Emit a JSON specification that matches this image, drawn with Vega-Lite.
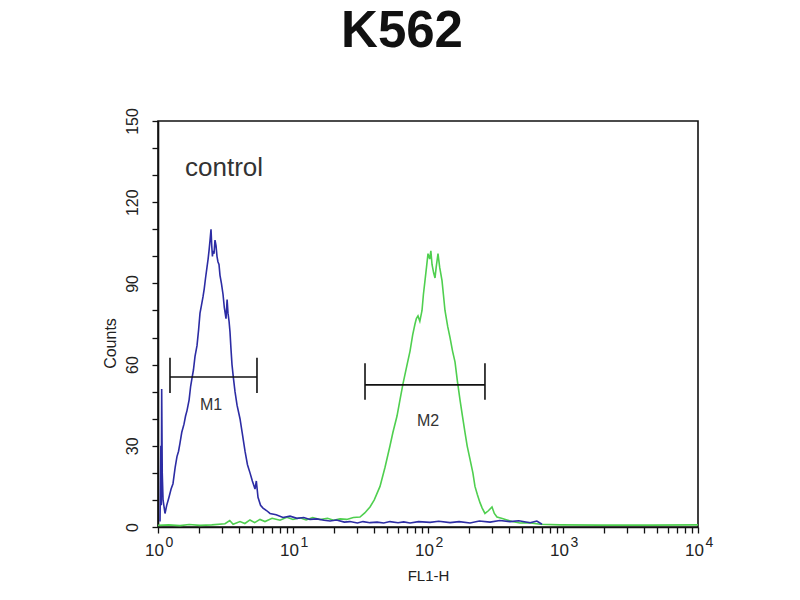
{
  "$schema": "https://vega.github.io/schema/vega-lite/v6.json",
  "description": "K562 flow cytometry histogram, control",
  "autosize": {"type": "none"},
  "padding": {"left": 158, "top": 121, "right": 102, "bottom": 73},
  "width": 540,
  "height": 406,
  "background": "white",
  "title": {
    "text": "K562",
    "font": "Liberation Sans",
    "fontSize": 51,
    "fontWeight": "bold",
    "color": "#111111",
    "anchor": "middle",
    "offset": 50,
    "dx": -26
  },
  "config": {
    "view": {"stroke": "#111111", "strokeWidth": 1.6},
    "axis": {
      "domainColor": "#111111",
      "domainWidth": 1.6,
      "tickColor": "#111111",
      "tickWidth": 1.3,
      "tickSize": 6,
      "grid": false,
      "labelFont": "Liberation Sans",
      "labelColor": "#222222",
      "labelOverlap": false,
      "labelFlush": false,
      "titleFont": "Liberation Sans",
      "titleFontWeight": "normal",
      "titleColor": "#222222"
    }
  },
  "datasets": {
    "blue": [
      {"fl": 1.035, "count": 2}, {"fl": 1.05, "count": 30}, {"fl": 1.058, "count": 8},
      {"fl": 1.065, "count": 51}, {"fl": 1.075, "count": 20}, {"fl": 1.09, "count": 10},
      {"fl": 1.127, "count": 5}, {"fl": 1.16, "count": 8}, {"fl": 1.206, "count": 11},
      {"fl": 1.25, "count": 14}, {"fl": 1.291, "count": 16}, {"fl": 1.34, "count": 22},
      {"fl": 1.382, "count": 26}, {"fl": 1.42, "count": 28}, {"fl": 1.455, "count": 31},
      {"fl": 1.5, "count": 35}, {"fl": 1.558, "count": 38}, {"fl": 1.6, "count": 41},
      {"fl": 1.64, "count": 43}, {"fl": 1.7, "count": 47}, {"fl": 1.745, "count": 52},
      {"fl": 1.786, "count": 55}, {"fl": 1.83, "count": 58}, {"fl": 1.88, "count": 63},
      {"fl": 1.945, "count": 67}, {"fl": 2.0, "count": 73}, {"fl": 2.047, "count": 79},
      {"fl": 2.1, "count": 82}, {"fl": 2.154, "count": 85}, {"fl": 2.2, "count": 88},
      {"fl": 2.25, "count": 92}, {"fl": 2.307, "count": 96}, {"fl": 2.35, "count": 99},
      {"fl": 2.387, "count": 102}, {"fl": 2.43, "count": 106}, {"fl": 2.47, "count": 110},
      {"fl": 2.5, "count": 104}, {"fl": 2.53, "count": 100}, {"fl": 2.556, "count": 102},
      {"fl": 2.6, "count": 101}, {"fl": 2.644, "count": 106}, {"fl": 2.69, "count": 104},
      {"fl": 2.735, "count": 100}, {"fl": 2.78, "count": 98}, {"fl": 2.83, "count": 97},
      {"fl": 2.879, "count": 93}, {"fl": 2.95, "count": 90}, {"fl": 3.031, "count": 86},
      {"fl": 3.1, "count": 81}, {"fl": 3.19, "count": 77}, {"fl": 3.25, "count": 84},
      {"fl": 3.3, "count": 79}, {"fl": 3.36, "count": 76}, {"fl": 3.415, "count": 72},
      {"fl": 3.47, "count": 66}, {"fl": 3.533, "count": 60}, {"fl": 3.62, "count": 55},
      {"fl": 3.719, "count": 50}, {"fl": 3.85, "count": 45}, {"fl": 4.05, "count": 40},
      {"fl": 4.2, "count": 35}, {"fl": 4.411, "count": 28}, {"fl": 4.6, "count": 23},
      {"fl": 4.803, "count": 20}, {"fl": 5.0, "count": 17}, {"fl": 5.231, "count": 14},
      {"fl": 5.35, "count": 17}, {"fl": 5.505, "count": 11}, {"fl": 5.75, "count": 8},
      {"fl": 5.995, "count": 7}, {"fl": 6.4, "count": 6}, {"fl": 6.755, "count": 5},
      {"fl": 7.5, "count": 4.5}, {"fl": 8.43, "count": 3.5}, {"fl": 9.5, "count": 4},
      {"fl": 10.71, "count": 3.2}, {"fl": 12, "count": 3.5}, {"fl": 13.36, "count": 2.8},
      {"fl": 15, "count": 3.0}, {"fl": 17, "count": 2.5}, {"fl": 18.8, "count": 2.2},
      {"fl": 21, "count": 2.6}, {"fl": 24, "count": 1.8}, {"fl": 26.4, "count": 2.0},
      {"fl": 30, "count": 1.5}, {"fl": 33, "count": 2.0}, {"fl": 37.2, "count": 1.6},
      {"fl": 42, "count": 1.8}, {"fl": 47, "count": 1.5}, {"fl": 52.3, "count": 2.0},
      {"fl": 60, "count": 1.6}, {"fl": 66, "count": 1.9}, {"fl": 73.6, "count": 1.5},
      {"fl": 85, "count": 2.0}, {"fl": 103.5, "count": 1.7}, {"fl": 120, "count": 2.1},
      {"fl": 145.6, "count": 1.6}, {"fl": 170, "count": 2.0}, {"fl": 204.8, "count": 1.5},
      {"fl": 240, "count": 2.2}, {"fl": 288, "count": 1.8}, {"fl": 340, "count": 2.4},
      {"fl": 405, "count": 2.0}, {"fl": 470, "count": 2.3}, {"fl": 570, "count": 1.6},
      {"fl": 640, "count": 2.2}, {"fl": 699, "count": 1.0}
    ],
    "green": [
      {"fl": 1.0, "count": 0.6}, {"fl": 1.2, "count": 0.8}, {"fl": 1.455, "count": 0.5},
      {"fl": 1.7, "count": 0.9}, {"fl": 2.047, "count": 0.6}, {"fl": 2.5, "count": 0.8},
      {"fl": 3.135, "count": 1.2}, {"fl": 3.4, "count": 2.4}, {"fl": 3.6, "count": 1.0},
      {"fl": 4.05, "count": 2.0}, {"fl": 4.4, "count": 1.3}, {"fl": 4.8, "count": 2.6},
      {"fl": 5.2, "count": 1.6}, {"fl": 5.695, "count": 2.8}, {"fl": 6.2, "count": 2.0},
      {"fl": 7.0, "count": 3.2}, {"fl": 8.01, "count": 2.5}, {"fl": 9.0, "count": 3.6},
      {"fl": 10.0, "count": 2.8}, {"fl": 11.27, "count": 3.4}, {"fl": 12.5, "count": 2.6},
      {"fl": 14, "count": 3.5}, {"fl": 15.85, "count": 2.8}, {"fl": 18, "count": 3.2},
      {"fl": 20, "count": 2.5}, {"fl": 22.3, "count": 3.0}, {"fl": 25, "count": 2.8},
      {"fl": 28, "count": 3.5}, {"fl": 31.35, "count": 3.7}, {"fl": 34, "count": 5.2},
      {"fl": 37.19, "count": 7.4}, {"fl": 40, "count": 10}, {"fl": 44.1, "count": 15},
      {"fl": 48, "count": 22}, {"fl": 52.3, "count": 30}, {"fl": 55, "count": 35},
      {"fl": 58.95, "count": 41}, {"fl": 62, "count": 47}, {"fl": 65.3, "count": 53},
      {"fl": 70, "count": 60}, {"fl": 73.6, "count": 65}, {"fl": 77, "count": 71},
      {"fl": 80.1, "count": 75}, {"fl": 82, "count": 77}, {"fl": 84.3, "count": 78},
      {"fl": 87, "count": 76}, {"fl": 90.3, "count": 80}, {"fl": 92.5, "count": 86},
      {"fl": 95, "count": 91}, {"fl": 97.5, "count": 96}, {"fl": 100, "count": 101},
      {"fl": 103, "count": 99}, {"fl": 105, "count": 102}, {"fl": 107.1, "count": 97},
      {"fl": 110, "count": 94}, {"fl": 112.7, "count": 92}, {"fl": 115, "count": 96},
      {"fl": 118.6, "count": 101}, {"fl": 122, "count": 96}, {"fl": 127, "count": 91},
      {"fl": 130, "count": 86}, {"fl": 133.6, "count": 80}, {"fl": 140, "count": 74},
      {"fl": 145.6, "count": 70}, {"fl": 152, "count": 65}, {"fl": 158.5, "count": 61},
      {"fl": 165, "count": 54}, {"fl": 172.6, "count": 47}, {"fl": 180, "count": 41},
      {"fl": 187.9, "count": 35}, {"fl": 195, "count": 30}, {"fl": 204.8, "count": 25},
      {"fl": 215, "count": 20}, {"fl": 222.8, "count": 15}, {"fl": 232, "count": 12},
      {"fl": 242.7, "count": 9}, {"fl": 252, "count": 7}, {"fl": 264.2, "count": 5},
      {"fl": 280, "count": 6}, {"fl": 297.9, "count": 7.4}, {"fl": 310, "count": 5},
      {"fl": 324.3, "count": 3.7}, {"fl": 350, "count": 3.2}, {"fl": 384.6, "count": 2.6},
      {"fl": 420, "count": 2.0}, {"fl": 479.8, "count": 1.5}, {"fl": 560, "count": 1.6},
      {"fl": 676, "count": 1.0}, {"fl": 950, "count": 0.8}, {"fl": 1880, "count": 0.7},
      {"fl": 4409, "count": 0.7}, {"fl": 10000, "count": 0.8}
    ],
    "markers": [
      {"name": "M1", "start": 1.227, "end": 5.41, "level": 55.4, "low": 49.5, "high": 62.5, "labelAt": 2.47, "labelY": 45},
      {"name": "M2", "start": 34.15, "end": 264.2, "level": 52.5, "low": 47, "high": 60.5, "labelAt": 100, "labelY": 39}
    ],
    "notes": [
      {"fl": 1.585, "count": 132.5, "text": "control"}
    ]
  },
  "resolve": {"axis": {"x": "independent"}},
  "encoding": {
    "y": {
      "field": "count",
      "type": "quantitative",
      "scale": {"domain": [0, 150], "nice": false},
      "title": "Counts",
      "axis": {
        "values": [0, 10, 20, 30, 40, 50, 60, 70, 80, 90, 100, 110, 120, 130, 140, 150],
        "labelExpr": "datum.value % 30 == 0 ? datum.label : ''",
        "labelAngle": 270,
        "labelAlign": "center",
        "labelBaseline": "bottom",
        "labelFontSize": 16,
        "labelPadding": 12,
        "titleFontSize": 16,
        "titlePadding": 6,
        "titleY": 222
      }
    }
  },
  "layer": [
    {
      "data": {"name": "green"},
      "mark": {"type": "line", "color": "#4fcf4f", "strokeWidth": 1.6, "clip": true},
      "encoding": {
        "x": {
          "field": "fl",
          "type": "quantitative",
          "scale": {"type": "log", "domain": [1, 10000], "nice": false},
          "title": "FL1-H",
          "axis": {
            "orient": "bottom",
            "values": [1, 2, 3, 4, 5, 6, 7, 8, 9, 10, 20, 30, 40, 50, 60, 70, 80, 90, 100, 200, 300, 400, 500, 600, 700, 800, 900, 1000, 2000, 3000, 4000, 5000, 6000, 7000, 8000, 9000, 10000],
            "labelExpr": "datum.value == 1 || datum.value == 10 || datum.value == 100 || datum.value == 1000 || datum.value == 10000 ? '10' : ''",
            "labelFontSize": 17,
            "labelPadding": 9,
            "labelOffset": -4,
            "titleFontSize": 15,
            "titlePadding": 10
          }
        }
      }
    },
    {
      "data": {"name": "blue"},
      "mark": {"type": "line", "color": "#2c2ca4", "strokeWidth": 1.6, "clip": true},
      "encoding": {
        "x": {"field": "fl", "type": "quantitative", "axis": null}
      }
    },
    {
      "data": {"name": "markers"},
      "mark": {"type": "rule", "color": "#111111", "strokeWidth": 1.6},
      "encoding": {
        "x": {"field": "start", "type": "quantitative", "axis": null},
        "x2": {"field": "end"},
        "y": {"field": "level", "type": "quantitative"}
      }
    },
    {
      "data": {"name": "markers"},
      "mark": {"type": "rule", "color": "#111111", "strokeWidth": 1.6},
      "encoding": {
        "x": {"field": "start", "type": "quantitative", "axis": null},
        "y": {"field": "low", "type": "quantitative"},
        "y2": {"field": "high"}
      }
    },
    {
      "data": {"name": "markers"},
      "mark": {"type": "rule", "color": "#111111", "strokeWidth": 1.6},
      "encoding": {
        "x": {"field": "end", "type": "quantitative", "axis": null},
        "y": {"field": "low", "type": "quantitative"},
        "y2": {"field": "high"}
      }
    },
    {
      "data": {"name": "markers"},
      "mark": {"type": "text", "font": "Liberation Sans", "fontSize": 16, "color": "#333333", "align": "center", "baseline": "middle"},
      "encoding": {
        "x": {"field": "labelAt", "type": "quantitative", "axis": null},
        "y": {"field": "labelY", "type": "quantitative"},
        "text": {"field": "name"}
      }
    },
    {
      "data": {"name": "notes"},
      "mark": {"type": "text", "font": "Liberation Sans", "fontSize": 26, "color": "#333333", "align": "left", "baseline": "middle"},
      "encoding": {
        "x": {
          "field": "fl",
          "type": "quantitative",
          "title": null,
          "axis": {
            "orient": "bottom",
            "values": [1, 10, 100, 1000, 10000],
            "labelExpr": "datum.value == 1 ? '0' : datum.value == 10 ? '1' : datum.value == 100 ? '2' : datum.value == 1000 ? '3' : '4'",
            "domain": false,
            "ticks": false,
            "tickSize": 0,
            "labelFontSize": 14,
            "labelPadding": 8,
            "labelOffset": 11
          }
        },
        "text": {"field": "text"}
      }
    }
  ]
}
